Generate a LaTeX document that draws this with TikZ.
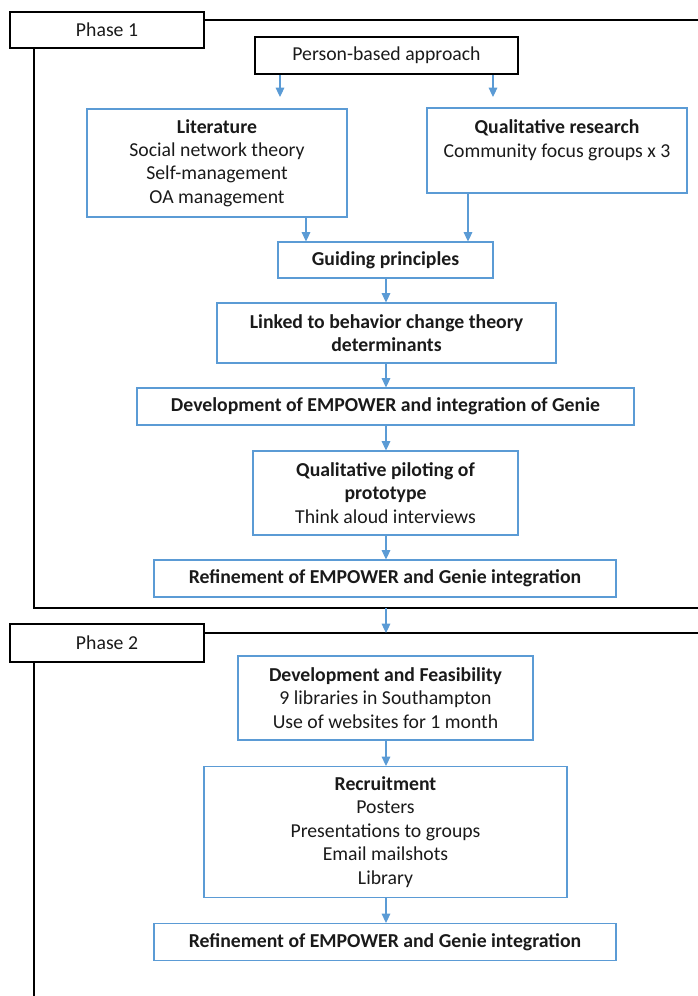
\documentclass[tikz,border=0pt]{standalone}
\usepackage{fontspec}
\setmainfont{Carlito}
\usetikzlibrary{arrows.meta}
\definecolor{bl}{HTML}{5B9BD5}
\definecolor{tx}{HTML}{1A1A1A}
\begin{document}
\begin{tikzpicture}[x=0.75pt,y=-0.75pt,
  every node/.style={font=\fontsize{14.8}{17.6}\selectfont, align=center, inner sep=0pt, text=tx},
  bbox/.style={draw=bl, line width=0.8pt},
  kbox/.style={draw=black, line width=2.1pt},
  arr/.style={draw=bl, line width=0.8pt, -{Triangle[width=6.5pt,length=7pt]}},
  frameline/.style={draw=black, line width=1.1pt}]
\useasboundingbox (0,0) rectangle (698,996);

% helper coordinates
\coordinate (cx) at (386,0);
\coordinate (xc) at (306,0);
\coordinate (xd) at (468,0);

% Phase 1 frame
\node[kbox, minimum width=145.5pt, minimum height=27pt] (p1) at (107,30) {Phase 1};
\coordinate (f1a) at (698,20);
\coordinate (f1b) at (34,608);
\coordinate (f1c) at (698,608);
\draw[frameline] (p1.north east |- f1a) -- (f1a);
\draw[frameline] (f1b |- p1.south) -- (f1b) -- (f1c);

% Phase 1 content
\node[kbox, minimum width=197.25pt, minimum height=27.75pt] (pba) at (386.5,55.5) {Person-based approach};
\coordinate (ea) at (280,97);
\coordinate (eb) at (493,97);

\node[bbox, minimum width=195pt, minimum height=81pt] (lit) at (217,163)
  {\textbf{Literature}\\Social network theory\\Self-management\\OA management};
\node[bbox, minimum width=195pt, minimum height=63.75pt] (qual) at (557,150.5)
  {\textbf{Qualitative research}\\Community focus groups x 3\\\mbox{}};
\node[bbox, minimum width=161.25pt, minimum height=27pt] (guide) at (385.5,260)
  {\textbf{Guiding principles}};
\node[bbox, minimum width=254.25pt, minimum height=45pt] (linked) at (386.5,333)
  {\textbf{Linked to behavior change theory}\\\textbf{determinants}};
\node[bbox, minimum width=372.75pt, minimum height=27.75pt] (dev) at (385.5,406.5)
  {\textbf{Development of EMPOWER and integration of Genie}};
\node[bbox, minimum width=198.75pt, minimum height=63pt] (pilot) at (385.5,493)
  {\textbf{Qualitative piloting of}\\\textbf{prototype}\\Think aloud interviews};
\node[bbox, minimum width=346.5pt, minimum height=27.75pt] (ref1) at (385,578.5)
  {\textbf{Refinement of EMPOWER and Genie integration}};

\draw[arr] (pba.south -| ea) -- (ea);
\draw[arr] (pba.south -| eb) -- (eb);
\draw[arr] (lit.south -| xc) -- (guide.north -| xc);
\draw[arr] (qual.south -| xd) -- (guide.north -| xd);
\draw[arr] (guide.south -| cx) -- (linked.north -| cx);
\draw[arr] (linked.south -| cx) -- (dev.north -| cx);
\draw[arr] (dev.south -| cx) -- (pilot.north -| cx);
\draw[arr] (pilot.south -| cx) -- (ref1.north -| cx);

% Phase 2 frame
\node[kbox, minimum width=145.5pt, minimum height=28.5pt] (p2) at (107,643) {Phase 2};
\coordinate (f2a) at (698,633);
\coordinate (f2b) at (34,996);
\draw[frameline] (p2.east |- f2a) -- (f2a);
\draw[frameline] (f2b |- p2.south) -- (f2b);
\draw[arr] (cx |- f1c) -- (cx |- f2a);

% Phase 2 content
\node[bbox, minimum width=221.25pt, minimum height=63pt] (feas) at (385.5,698)
  {\textbf{Development and Feasibility}\\9 libraries in Southampton\\Use of websites for 1 month};
\node[bbox, minimum width=272.25pt, minimum height=98.25pt] (recr) at (385.5,832)
  {\textbf{Recruitment}\\Posters\\Presentations to groups\\Email mailshots\\Library};
\node[bbox, minimum width=346.5pt, minimum height=27.75pt] (ref2) at (385,942)
  {\textbf{Refinement of EMPOWER and Genie integration}};

\draw[arr] (feas.south -| cx) -- (recr.north -| cx);
\draw[arr] (recr.south -| cx) -- (ref2.north -| cx);
\end{tikzpicture}
\end{document}
